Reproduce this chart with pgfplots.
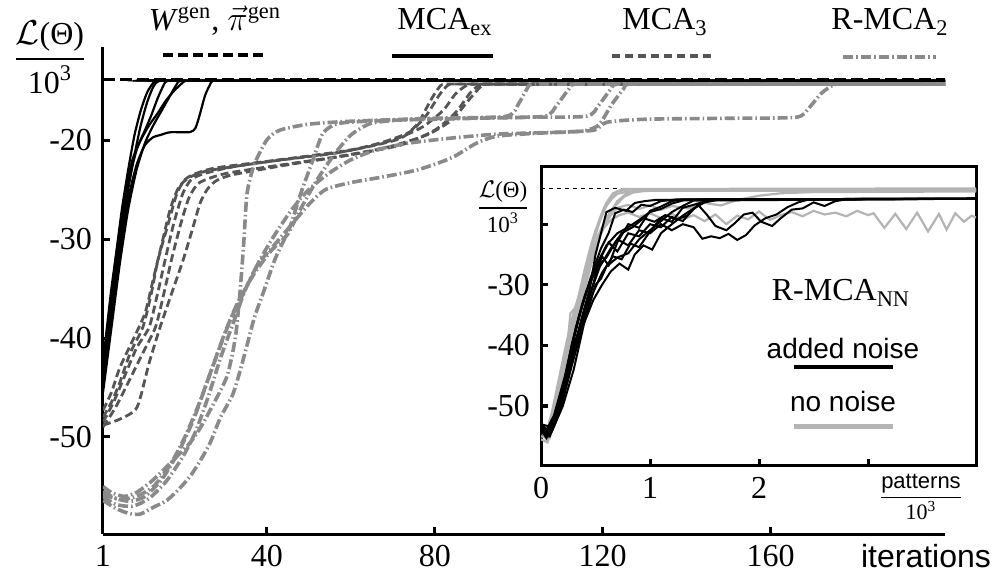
\documentclass[border=0pt]{standalone}
\usepackage{pgfplots}
\pgfplotsset{compat=1.18}
\usepackage{fontspec}
\setmainfont{Liberation Serif}
\newfontfamily\arial{Liberation Sans}

\definecolor{mcagray}{HTML}{555555}
\definecolor{rgray}{HTML}{8A8A8A}
\definecolor{nngray}{HTML}{B4B4B4}

\tikzset{
  wgen/.style={black, line width=1.2pt, dash pattern=on 6pt off 2.5pt},
  mcaex/.style={black, line width=1.1pt},
  mcathree/.style={mcagray, line width=1.4pt, dash pattern=on 4pt off 2pt},
  rmca/.style={rgray, line width=1.8pt, dash pattern=on 5pt off 1.5pt on 0.8pt off 1.5pt},
  nn/.style={nngray, line width=1.1pt},
  an/.style={black, line width=1pt},
}

\begin{document}
\fontsize{16}{19}\selectfont
\begin{tikzpicture}
\useasboundingbox (0,0) rectangle (501pt,292pt);

% ---------------- main axis ----------------
\begin{axis}[
  at={(51.5pt,25pt)}, anchor=south west,
  scale only axis, width=421pt, height=243.5pt,
  xmin=1, xmax=201.5, ymin=-59.8, ymax=-10.6,
  axis x line*=bottom, axis y line*=left,
  axis line style={line width=1.5pt},
  tick align=inside, major tick length=3.5pt,
  tick style={line width=1.5pt, black},
  xtick={1,40,80,120,160}, xticklabels={1,40,80,120,160},
  ytick={-50,-40,-30,-20}, yticklabels={-50,-40,-30,-20},
  every axis plot/.append style={smooth, tension=0.4},
]
% W^gen, pi^gen reference level
\addplot[wgen, sharp plot] coordinates {(1,-13.9) (201.5,-13.9)};

% MCA_3
\addplot[mcathree] coordinates {(1,-48)(3,-46.5)(5,-44.5)(7.5,-41.5)(10.5,-38.9)(12.5,-35.5)(14.1,-32.1)(16.5,-28.5)(18.6,-25.4)(20.5,-24)(23,-23.4)(28,-22.8)(43,-22)(58,-21.2)(67,-20.3)(74,-19.2)(78,-17.5)(81,-15.5)(83,-14.5)(84.5,-14.35)(95,-14.35)(201.5,-14.35)};
\addplot[mcathree] coordinates {(1,-48.5)(3.5,-46.5)(6,-44)(9,-41)(12,-38.9)(14,-35.5)(15.8,-32.1)(17.8,-28.5)(20,-25.4)(22,-24)(25,-23.4)(32,-22.7)(45,-21.9)(60,-21)(70,-20)(77,-18.7)(82,-17)(85,-15.3)(87.5,-14.5)(89,-14.35)(100,-14.35)(201.5,-14.35)};
\addplot[mcathree] coordinates {(1,-49)(4,-47)(7,-44.5)(10.5,-41.5)(13.5,-38.9)(15.5,-35.5)(17.3,-32.1)(19.5,-28.5)(21.5,-25.8)(24,-24.3)(30,-23.4)(42,-22.6)(55,-21.8)(68,-20.8)(78,-19.5)(84,-18)(88,-16)(91,-14.6)(93,-14.35)(103,-14.35)(201.5,-14.35)};
\addplot[mcathree] coordinates {(1,-48.8)(5,-48.2)(9.1,-47)(12,-42.5)(14.6,-38.9)(17.5,-35.3)(20.1,-32.1)(22.3,-29)(24.1,-26.4)(25.8,-25)(28,-24.1)(32,-23.5)(45,-22.5)(60,-21.5)(72,-20.5)(80,-19)(85,-17.2)(88.5,-15.2)(90.5,-14.5)(92,-14.35)(102,-14.35)(201.5,-14.35)};
\addplot[mcathree] coordinates {(1,-47.3)(3,-45.5)(5,-43)(8,-40.3)(11,-37.5)(13,-34)(15,-30.5)(17,-27)(19,-24.8)(21.5,-23.8)(26,-23.1)(40,-22.2)(55,-21.4)(65,-20.6)(72,-19.8)(76,-18.3)(79,-16)(81,-14.7)(82.5,-14.35)(92,-14.35)(201.5,-14.35)};

% R-MCA_2
\addplot[rmca] coordinates {(1,-55)(3,-55.6)(6,-56)(9,-55.6)(12.5,-54.5)(16.2,-53)(19,-51.8)(21.7,-50.6)(24,-49.2)(26.5,-47.3)(30.5,-43.9)(32.5,-40)(33.6,-35.5)(34.5,-30.5)(35.3,-25.4)(37,-22.5)(40,-20)(43.1,-19)(50,-18.4)(60,-18.1)(80,-17.8)(97,-17.6)(100,-16.3)(102,-14.8)(103.5,-14.35)(115,-14.35)(201.5,-14.35)};
\addplot[rmca] coordinates {(1,-56.4)(4,-57.2)(7,-57.7)(9.8,-57.8)(13,-57.1)(16.2,-56.4)(19,-55.3)(21.7,-54)(24,-52.5)(26.5,-50.6)(29,-48)(32,-45.6)(34.5,-42)(37,-38)(39.1,-35.5)(42,-32)(45.5,-28.8)(48,-25.5)(51,-22)(53.4,-19.3)(57.4,-18.3)(70,-18)(90,-17.8)(106,-17.6)(109,-16.5)(112,-14.8)(113.5,-14.35)(125,-14.35)(201.5,-14.35)};
\addplot[rmca] coordinates {(1,-56)(4,-56.8)(8,-57)(12,-56.2)(16,-54.5)(20,-52)(23,-49.5)(26,-46)(29,-42)(32,-38.5)(35,-35)(38,-32.5)(42,-30.5)(46,-28.5)(50,-26.5)(54,-25)(60,-24.3)(68,-23.7)(76,-23)(84,-21.8)(90,-20.3)(95,-19.6)(105,-19.3)(115,-19.1)(119,-18.5)(122,-16.5)(125,-14.8)(126.5,-14.35)(140,-14.35)(201.5,-14.35)};
\addplot[rmca] coordinates {(1,-55.5)(4,-56.2)(7.5,-56.5)(11,-56)(15,-54.3)(19,-51.5)(22.5,-48.3)(25.5,-44.8)(28.5,-41.3)(31.5,-38)(35,-35)(38.5,-32)(42,-29.5)(46,-27)(50,-25)(55,-23.3)(60,-22)(66,-21)(74,-20.3)(84,-19.8)(95,-19.4)(110,-19.2)(118,-19)(121,-18.2)(130,-17.9)(150,-17.8)(166,-17.7)(169,-16.8)(172,-15.3)(174.6,-14.5)(176,-14.35)(185,-14.35)(201.5,-14.35)};
\addplot[rmca] coordinates {(1,-55.8)(5,-56.3)(9,-56)(13,-55)(17,-52.8)(20.5,-50)(24,-46.5)(27,-43)(30,-39.5)(33,-36.5)(37,-33.5)(41,-31.2)(45,-29.5)(48,-27)(52,-24)(56,-21.5)(60,-19.5)(65,-18.3)(75,-17.9)(100,-17.7)(116,-17.6)(119,-16.5)(122,-14.8)(123.5,-14.35)(135,-14.35)(201.5,-14.35)};

% MCA_ex
\addplot[mcaex] coordinates {(1,-44)(2.5,-38)(4,-32)(5.5,-27)(7,-23)(8.5,-19.5)(10,-17)(11.5,-15.2)(13,-14.2)(14,-14)(20,-14)(201.5,-14)};
\addplot[mcaex] coordinates {(1,-45)(2.5,-39.5)(4,-34)(5.5,-29)(7,-25)(8.5,-21.5)(10,-18.5)(11.5,-16.2)(13,-14.6)(14.5,-14)(20,-14)(201.5,-14)};
\addplot[mcaex] coordinates {(1,-43)(3,-36)(5,-30)(7,-24.5)(9,-21)(11,-19)(12.5,-17.5)(14,-15.8)(15.5,-14.4)(16.5,-14)(22,-14)(201.5,-14)};
\addplot[mcaex] coordinates {(1,-45.5)(3,-39)(5,-32.5)(7,-27)(9,-23)(11,-20.3)(13,-18.5)(15,-17)(17,-15.5)(18.5,-14.4)(19.5,-14)(25,-14)(201.5,-14)};
\addplot[mcaex] coordinates {(1,-44.5)(3,-38)(5,-31.5)(7,-26)(9,-22.5)(11,-20.5)(13,-19.7)(14.6,-19.5)(16,-19.3)(17.4,-19.2)(21.7,-19.2)(23,-18.8)(24,-17.5)(25.3,-15.5)(26.5,-14.4)(27.3,-14)(33,-14)(201.5,-14)};
\addplot[mcaex] coordinates {(1,-42.5)(3,-35)(5,-29)(6.5,-25)(8,-22)(10,-20)(12,-18.5)(14,-17.3)(16,-16)(18,-15)(20,-14.2)(21,-14)(27,-14)(201.5,-14)};
\end{axis}

% ---------------- inset ----------------
\begin{axis}[
  at={(270.5pt,59pt)}, anchor=south west,
  scale only axis, width=217.5pt, height=150pt,
  xmin=0, xmax=3.99, ymin=-59.9, ymax=-10.4,
  axis background/.style={fill=white},
  axis line style={line width=1.5pt},
  tick align=inside, major tick length=3.5pt,
  tick style={line width=1.5pt, black},
  xtick pos=left, ytick pos=left,
  xtick={0,1,2,3}, xticklabels={0,1,2,{}},
  ytick={-50,-40,-30,-20}, yticklabels={-50,-40,-30,{}},
]
\addplot[black, line width=0.6pt, dash pattern=on 2pt off 2pt] coordinates {(0,-14.1) (3.99,-14.1)};

% no noise
\addplot[nn] coordinates {(0,-54)(0.05,-55.5)(0.1,-53)(0.15,-49)(0.2,-44.5)(0.25,-40)(0.3,-35.5)(0.35,-31.5)(0.4,-27.5)(0.45,-24)(0.5,-21)(0.55,-19)(0.6,-17)(0.65,-15.8)(0.7,-15)(0.8,-14.6)(1,-14.5)(3.99,-14.4)};
\addplot[nn] coordinates {(0,-53)(0.06,-53.8)(0.12,-50)(0.18,-45)(0.24,-40.5)(0.27,-34.7)(0.33,-33.5)(0.38,-30)(0.43,-26)(0.48,-22.5)(0.53,-19.5)(0.58,-17.2)(0.64,-15.5)(0.7,-14.6)(0.8,-14.3)(3.99,-14.3)};
\addplot[nn] coordinates {(0,-55.5)(0.06,-56)(0.12,-53)(0.2,-46.5)(0.28,-39)(0.36,-32)(0.44,-26.5)(0.52,-22)(0.6,-19)(0.68,-17)(0.76,-15.5)(0.84,-14.8)(0.95,-14.5)(3.99,-14.5)};
\addplot[nn] coordinates {(0,-54.5)(0.08,-54)(0.16,-48.5)(0.24,-41.5)(0.32,-35)(0.4,-29)(0.48,-24.5)(0.56,-21)(0.64,-19.3)(0.72,-18.5)(0.8,-18.1)(0.9,-18.8)(1.0,-18.2)(1.1,-19.0)(1.2,-18.3)(1.3,-19.2)(1.4,-18.5)(1.5,-19.5)(1.6,-18.4)(1.7,-20.0)(1.8,-18.6)(1.9,-19.2)(2.0,-17.9)(2.1,-19.3)(2.2,-18.5)(2.3,-18.0)(2.4,-18.7)(2.5,-17.8)(2.6,-18.4)(2.7,-18.1)(2.8,-18.7)(2.9,-17.8)(3.0,-18.5)(3.05,-18.2)(3.15,-20.6)(3.25,-18.3)(3.35,-20.8)(3.45,-18.1)(3.55,-21.2)(3.65,-18.3)(3.72,-20.9)(3.8,-18.2)(3.88,-19.6)(3.95,-18.6)(3.99,-18.9)};
\addplot[nn] coordinates {(0,-53.5)(0.07,-54.2)(0.14,-50.5)(0.22,-44)(0.3,-37)(0.38,-31)(0.46,-26)(0.54,-22)(0.62,-19)(0.7,-17.3)(0.8,-16.8)(0.9,-17.5)(1.0,-16.9)(1.1,-17.6)(1.2,-17.0)(1.35,-17.4)(1.5,-16.5)(1.65,-16.9)(1.8,-16.0)(2.0,-15.3)(2.2,-14.9)(2.5,-14.7)(3.99,-14.6)};
\addplot[nn] coordinates {(0,-54)(0.05,-54.5)(0.1,-51)(0.17,-45)(0.24,-39)(0.3,-34.5)(0.36,-31)(0.42,-27)(0.48,-23)(0.54,-19.5)(0.6,-16.5)(0.66,-14.9)(0.75,-14.2)(3.99,-14.1)};
\addplot[nn] coordinates {(0,-55)(0.08,-55.3)(0.16,-50)(0.23,-43)(0.3,-37.5)(0.37,-33)(0.44,-28)(0.5,-24)(0.57,-20.5)(0.63,-18.2)(0.7,-16.2)(0.78,-15)(0.88,-14.4)(3.99,-14.3)};

% added noise
\addplot[an] coordinates {(0,-53.5)(0.05,-54.5)(0.1,-53)(0.2,-47)(0.3,-39)(0.4,-32)(0.5,-27)(0.6,-23.5)(0.7,-21.5)(0.8,-20.5)(0.9,-19.3)(1.0,-18)(1.1,-17.5)(1.2,-16.6)(1.3,-16.1)(1.5,-15.9)(3.99,-15.8)};
\addplot[an] coordinates {(0,-54)(0.07,-55)(0.15,-51)(0.25,-43)(0.35,-35)(0.45,-29.5)(0.55,-25.5)(0.62,-23)(0.7,-24.5)(0.8,-21.5)(0.9,-22)(1.0,-20)(1.1,-20.5)(1.2,-18.8)(1.3,-19.5)(1.4,-17.5)(1.5,-16.2)(1.6,-15.9)(3.99,-15.8)};
\addplot[an] coordinates {(0,-53)(0.05,-54)(0.12,-51.5)(0.22,-45)(0.32,-37)(0.42,-31)(0.52,-27)(0.6,-25.5)(0.7,-22.5)(0.8,-23.5)(0.9,-21)(1.0,-21.5)(1.1,-20)(1.2,-21)(1.3,-20)(1.4,-20.5)(1.48,-22.4)(1.56,-22)(1.64,-22.3)(1.72,-21.6)(1.8,-22.6)(1.88,-21.8)(1.96,-20.2)(2.06,-19)(2.16,-18.4)(2.26,-17.2)(2.36,-16.4)(2.46,-15.9)(3.99,-15.8)};
\addplot[an] coordinates {(0,-54.5)(0.08,-54)(0.18,-49)(0.28,-40)(0.38,-33)(0.48,-27.5)(0.55,-24)(0.62,-21.5)(0.68,-18.2)(0.76,-17.6)(0.84,-18)(0.92,-16.8)(1.0,-17)(1.1,-16.2)(1.25,-15.9)(3.99,-15.8)};
\addplot[an] coordinates {(0,-53)(0.06,-54)(0.14,-52)(0.24,-46)(0.34,-38)(0.44,-32)(0.54,-27)(0.64,-24)(0.74,-21.5)(0.84,-20.5)(0.94,-19)(1.04,-19.6)(1.14,-18.5)(1.24,-19.2)(1.34,-18.6)(1.44,-16.8)(1.52,-18.4)(1.6,-20.3)(1.7,-21)(1.78,-19.8)(1.86,-18.4)(1.94,-18.1)(2.02,-19.6)(2.12,-20.3)(2.2,-19)(2.3,-17.6)(2.4,-17.4)(2.5,-16.4)(2.6,-17.0)(2.7,-16.2)(2.8,-15.9)(3.99,-15.8)};
\addplot[an] coordinates {(0,-53.8)(0.1,-54.2)(0.2,-50)(0.3,-44)(0.4,-36)(0.5,-30)(0.55,-29)(0.6,-27)(0.7,-25.5)(0.8,-24.8)(0.9,-22.5)(1.0,-21)(1.1,-19.5)(1.2,-18)(1.3,-17)(1.4,-16.1)(3.99,-15.8)};
\addplot[an] coordinates {(0,-54)(0.05,-55.3)(0.12,-52)(0.2,-47)(0.3,-40)(0.4,-35)(0.5,-28.5)(0.56,-25.3)(0.62,-26.8)(0.7,-23)(0.8,-20)(0.9,-20.6)(1.0,-17.8)(1.1,-17.1)(1.2,-16.2)(1.3,-15.9)(3.99,-15.8)};
\addplot[an] coordinates {(0,-53)(0.1,-53.5)(0.18,-50)(0.28,-42)(0.38,-35)(0.45,-30.5)(0.5,-25)(0.55,-21.5)(0.6,-18)(0.68,-17.3)(0.78,-17.8)(0.86,-16.5)(0.95,-16.2)(1.05,-16)(3.99,-15.8)};
\addplot[an] coordinates {(0,-53.3)(0.08,-54.8)(0.16,-51)(0.26,-44.5)(0.36,-37.5)(0.46,-32)(0.56,-28)(0.66,-25.3)(0.74,-25.8)(0.82,-23.2)(0.9,-23.8)(1.0,-21.2)(1.1,-19)(1.2,-19.6)(1.3,-17.3)(1.4,-16.8)(1.55,-16)(3.99,-15.8)};
\addplot[an] coordinates {(0,-54.2)(0.08,-55)(0.18,-50.5)(0.28,-43.5)(0.38,-37)(0.48,-32.5)(0.56,-30)(0.64,-27.8)(0.72,-26.5)(0.8,-27.5)(0.86,-25)(0.94,-23.5)(1.02,-24.2)(1.1,-21.5)(1.2,-20)(1.3,-18.6)(1.4,-17.4)(1.5,-16.4)(1.65,-15.9)(3.99,-15.8)};
\end{axis}

% ---------------- labels and legend keys ----------------
\node at (25pt,263.5pt) {$\displaystyle{\mathcal{L}\hbox{(Θ)}\above 1pt\hbox{10\textsuperscript{3}}}$};
\node at (107.5pt,281.5pt) {\textit{W}\textsuperscript{gen}, $\vec{\pi}$\textsuperscript{gen}};
\node at (222.5pt,281pt) {MCA\textsubscript{ex}};
\node at (332.5pt,281pt) {MCA\textsubscript{3}};
\node at (445pt,281pt) {R-MCA\textsubscript{2}};
\draw[black, line width=2pt, dash pattern=on 5pt off 2.5pt] (81.5pt,264.5pt) -- (132.5pt,264.5pt);
\draw[black, line width=2pt] (196pt,264pt) -- (246.5pt,264pt);
\draw[mcagray, line width=2pt, dash pattern=on 4pt off 2.5pt] (306pt,264pt) -- (356.5pt,264pt);
\draw[rgray, line width=2pt, dash pattern=on 5pt off 1.5pt on 1pt off 1.5pt] (421.5pt,263.5pt) -- (468pt,263.5pt);

\node[anchor=east] at (501pt,14pt) {\arial iterations};

\node at (251.5pt,188.5pt) {\fontsize{11.5}{13}\selectfont $\displaystyle{\mathcal{L}\hbox{(Θ)}\above 0.7pt\hbox{10\textsuperscript{3}}}$};
\node at (420.5pt,145.5pt) {R-MCA\textsubscript{NN}};
\node at (421.5pt,118pt) {\fontsize{14}{16}\selectfont\arial added noise};
\draw[black, line width=2pt] (397pt,108.5pt) -- (446.5pt,108.5pt);
\node at (421.5pt,91.5pt) {\fontsize{14}{16}\selectfont\arial no noise};
\draw[nngray, line width=2.5pt] (397pt,78.5pt) -- (446.5pt,78.5pt);
\node at (460.5pt,43.5pt) {\fontsize{11}{13}\selectfont $\displaystyle{\hbox{\arial patterns}\above 0.6pt\hbox{10\textsuperscript{3}}}$};
\end{tikzpicture}
\end{document}
